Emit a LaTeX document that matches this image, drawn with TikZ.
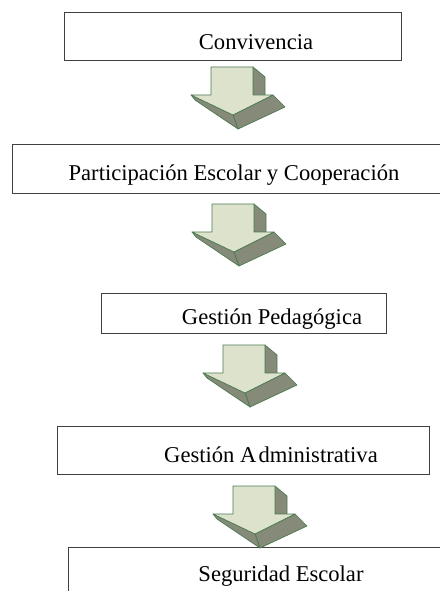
\documentclass[tikz,border=0pt]{standalone}
\usepackage{fontspec}
\setmainfont{Liberation Serif}
\usepackage{tikz}
\usetikzlibrary{positioning,calc}

\definecolor{claro}{HTML}{DDE2CC}
\definecolor{oscuro}{HTML}{868A78}
\definecolor{borde}{HTML}{4A7A50}

\begin{document}
\begin{tikzpicture}[x=1pt, y=-1pt,
    caja/.style={draw=black!75, line width=0.8pt, rectangle, inner sep=0},
    texto/.style={font=\fontsize{22.6}{26}\selectfont, anchor=base, inner sep=0},
    flecha/.pic={
      % lado del tronco y caras oscuras de la punta
      \filldraw[fill=oscuro, draw=borde, line width=0.7pt, line join=round]
        (42,0) -- (54,10) -- (54,29) -- (42,28) -- cycle;
      \filldraw[fill=oscuro, draw=borde, line width=0.7pt, line join=round]
        (62,28) -- (74,40) -- (27,62) -- (22,48) -- cycle;
      \filldraw[fill=oscuro, draw=borde, line width=0.7pt, line join=round]
        (-20,28) -- (-16,33) -- (27,62) -- (22,48) -- cycle;
      % cara clara
      \filldraw[fill=claro, draw=borde, line width=0.7pt, line join=round]
        (0,0) -- (42,0) -- (42,28) -- (62,28) -- (22,48) -- (-20,28) -- (0,28) -- cycle;
    }]
  \useasboundingbox (0,0) rectangle (439,591);

  % cajas
  \node[caja, minimum width=337, minimum height=48] (conv) at (232.5,36) {};
  \node[caja, minimum width=433, minimum height=49] (part) at (228.5,168.5) {};
  \node[caja, minimum width=285, minimum height=40] (ped) at (243.5,313) {};
  \node[caja, minimum width=372, minimum height=48] (adm) at (243,450) {};
  \node[caja, minimum width=382, minimum height=53] (seg) at (259,573.5) {};

  % textos
  \node[texto] (conv-t) at (256,50) {Convivencia};
  \node[texto] (part-t) at (234,180) {Participación Escolar y Cooperación};
  \node[texto] (ped-t) at (272,324) {Gestión Pedagógica};
  \node[texto] (adm-t) at (271,462) {Gestión A\kern2pt dministrativa};
  \node[texto] (seg-t) at (281,581) {Seguridad Escolar};

  % flechas
  \coordinate (f1) at (211,67);
  \coordinate (f2) at (212,204);
  \coordinate (f3) at (223,345);
  \coordinate (f4) at (233,486);
  \pic at (f1) {flecha};
  \pic at (f2) {flecha};
  \pic at (f3) {flecha};
  \pic at (f4) {flecha};
\end{tikzpicture}
\end{document}
